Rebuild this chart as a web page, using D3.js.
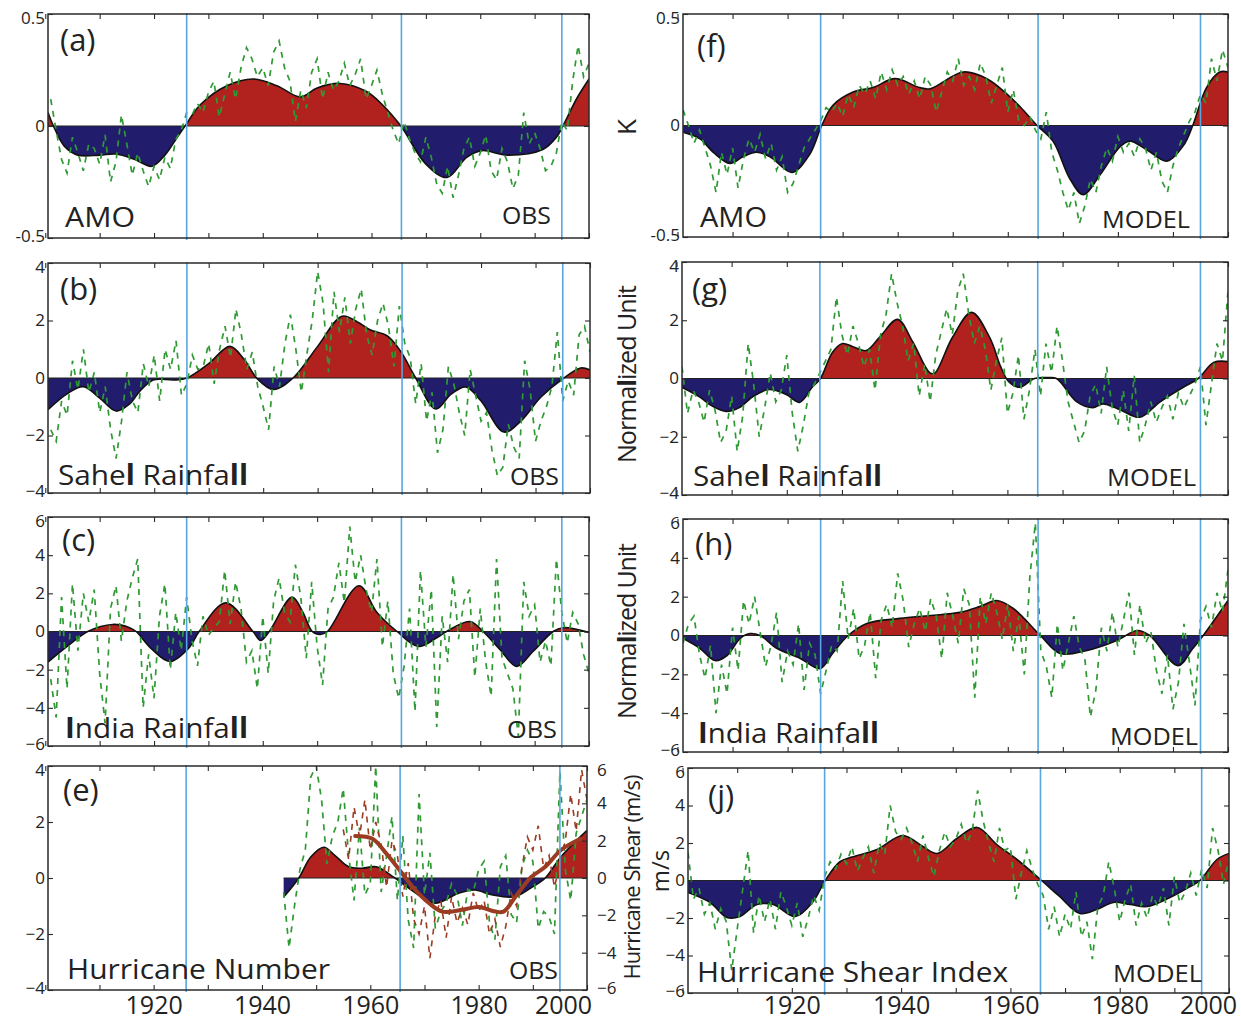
<!DOCTYPE html>
<html>
<head>
<meta charset="utf-8">
<script src="https://cdn.jsdelivr.net/npm/d3@7"></script>
<style>
  body { margin: 0; background: #fff; }
  svg { display: block; font-family: "Open Sans", "Noto Sans", sans-serif; }
</style>
</head>
<body>
<svg id="fig" width="1241" height="1022"></svg>
<script>
// ---------------- data ----------------
const firstYear = 1901;              // annual series run 1901..2000
const phaseYears = [1926, 1965.5, 1995];

const decadeTicks = [1900, 1910, 1920, 1930, 1940, 1950, 1960, 1970, 1980, 1990, 2000];
const yearLabels = [1920, 1940, 1960, 1980, 2000];
const amoTicks = [-0.5, 0, 0.5];
const ticks4 = [-4, -2, 0, 2, 4];
const ticks6 = [-6, -4, -2, 0, 2, 4, 6];

// annual values (K or normalized units), 1901..2000
const amoObs = [
  0.12,-0.02,-0.15,-0.21,-0.05,-0.12,-0.20,-0.08,-0.10,-0.17,
 -0.04,-0.25,-0.16,0.05,-0.08,-0.22,-0.12,-0.20,-0.27,-0.18,
 -0.24,-0.14,-0.19,-0.06,-0.02,0.06,0.05,0.10,0.06,0.15,
  0.20,0.04,0.14,0.24,0.12,0.26,0.35,0.30,0.22,0.26,
  0.18,0.33,0.38,0.26,0.20,0.02,0.16,0.08,0.24,0.30,
  0.12,0.24,0.16,0.20,0.28,0.18,0.23,0.30,0.12,0.18,
  0.25,0.14,0.06,-0.02,-0.08,0.02,-0.06,-0.12,-0.16,-0.05,
 -0.14,-0.26,-0.30,-0.18,-0.32,-0.22,-0.10,-0.05,-0.18,-0.12,
 -0.04,-0.20,-0.24,-0.10,-0.16,-0.28,-0.22,0.06,-0.08,-0.03,
 -0.10,-0.20,-0.18,-0.12,0.02,-0.02,0.20,0.36,0.22,0.28];

const sahelObs = [
 -1.8,-2.2,-0.8,-1.3,0.6,-0.4,1.0,-0.5,0.2,-1.2,
 -0.3,-1.8,-2.8,-1.5,0.2,-0.8,-1.2,0.5,-0.3,0.8,
 -0.8,1.0,0.3,1.3,-0.6,-0.2,0.8,0.3,0.4,1.2,
 -0.2,1.0,1.8,0.7,2.4,1.5,0.3,0.9,-0.3,-1.0,
 -1.8,0.4,-0.3,1.2,2.2,1.0,-0.5,0.8,2.0,3.7,
  2.6,0.2,3.0,1.6,2.8,1.2,2.4,3.1,1.5,0.8,
  2.0,2.6,1.8,0.4,2.5,1.2,0.7,-0.9,0.5,-1.5,
 -0.5,-2.6,-1.8,0.4,-0.2,-1.2,-2.0,0.3,-0.6,-1.5,
 -1.2,-2.5,-3.4,-3.1,-1.6,-2.4,-2.8,0.6,-0.4,-2.2,
 -1.5,-1.0,-0.3,1.6,-0.8,-0.1,-0.6,1.5,1.8,0.9];

const indiaObs = [
 -2.5,-4.5,1.8,-3.0,2.5,-1.0,2.0,0.5,2.2,-2.2,
 -4.8,1.2,2.4,-0.5,1.6,2.8,3.8,-4.0,-1.2,-3.5,
  0.8,2.5,-2.0,1.0,-1.0,1.8,-0.5,-1.8,0.8,-0.2,
  0.2,0.5,3.2,0.4,2.6,1.2,-1.6,-1.0,-3.0,0.8,
 -2.2,1.6,2.8,1.0,0.5,3.5,1.8,-1.4,2.6,-0.8,
 -2.8,1.2,1.8,3.6,1.5,5.5,2.6,4.0,2.2,1.0,
  3.8,-0.8,1.6,-2.2,-3.5,-1.8,1.2,-4.2,3.2,-0.8,
  2.2,-5.0,0.8,-1.6,3.0,-0.4,1.6,2.2,-2.4,1.2,
 -1.6,-3.4,3.8,-1.4,-2.2,-3.0,-5.5,2.6,0.8,1.4,
 -1.6,-0.5,-1.8,3.8,1.0,-0.6,1.0,0.4,-1.2,-2.2];

// hurricane number, 1944..2000
const hurrStart = 1944;
const hurrObs = [
 -0.5,-2.5,-1.0,0.3,1.0,3.6,4.0,
  2.8,0.5,1.5,2.0,3.2,0.8,-0.8,1.8,-0.6,-0.2,
  4.0,-0.5,0.8,2.2,-0.8,1.5,-1.5,-2.5,3.0,-0.6,
  0.9,-1.8,-1.2,-0.9,-0.2,-0.6,-1.7,-0.4,-0.5,0.3,
  0.6,-1.6,-2.2,0.4,0.8,-1.3,-1.6,0.4,1.0,0.6,
 -1.8,-1.2,-1.4,-2.0,3.8,0.3,-0.8,1.6,2.2,2.8];

// observed hurricane shear (m/s), 1955..2000
const shearStart = 1955;
const shearObs = [
  2.6,1.0,3.8,2.2,4.2,1.5,
  3.0,1.8,-0.5,2.0,1.2,-1.0,0.8,-2.2,-3.0,-1.5,
 -4.3,-2.0,-1.2,-3.2,-1.0,-2.4,-1.6,-2.5,-0.8,-1.8,
 -1.2,-3.0,-2.2,-3.7,-2.6,-0.8,-1.5,0.6,2.2,1.5,
  2.8,0.5,1.2,-0.5,0.8,2.0,4.5,2.5,5.8,4.2];

const amoModel = [
  0.07,0.00,-0.08,-0.02,-0.10,-0.18,-0.30,-0.12,-0.22,-0.10,
 -0.28,-0.15,-0.06,-0.12,-0.04,-0.15,-0.08,-0.20,-0.14,-0.30,
 -0.26,-0.18,-0.10,-0.06,-0.02,0.02,0.08,0.06,0.10,0.04,
  0.14,0.08,0.18,0.14,0.20,0.12,0.24,0.16,0.25,0.18,
  0.22,0.14,0.20,0.12,0.22,0.18,0.06,0.15,0.24,0.20,
  0.30,0.18,0.22,0.16,0.28,0.22,0.10,0.18,0.26,0.06,
  0.16,0.02,0.00,0.04,-0.02,-0.06,0.06,-0.12,-0.20,-0.30,
 -0.38,-0.30,-0.44,-0.36,-0.24,-0.30,-0.18,-0.10,-0.16,-0.05,
 -0.12,-0.08,-0.14,-0.06,-0.10,-0.20,-0.12,-0.25,-0.30,-0.18,
 -0.10,-0.04,0.02,0.06,0.14,0.10,0.30,0.20,0.34,0.26];

const sahelModel = [
  0.4,-1.2,-0.4,-0.8,-1.5,-0.4,-1.1,-2.2,-1.8,-0.6,
 -2.5,-1.3,1.2,-0.2,-2.0,-1.0,0.2,-0.8,-0.4,0.8,
 -1.2,-2.5,-1.6,-0.5,-0.2,0.2,0.6,1.0,2.8,1.5,
  0.8,1.8,1.2,0.4,1.0,-0.4,1.5,2.2,3.6,2.6,
  1.8,0.6,1.2,-0.6,0.5,-0.8,0.8,1.6,2.4,1.5,
  3.0,3.6,2.2,1.2,1.8,1.0,-0.4,0.6,1.4,-1.2,
 -0.5,0.8,-1.4,-0.4,1.0,-0.6,1.2,0.2,1.8,0.6,
 -0.8,-1.5,-2.2,-1.8,-0.6,-0.2,-1.2,0.4,-1.0,-1.6,
 -0.4,-1.8,0.1,-2.2,-1.6,-0.8,-1.5,-1.0,-0.6,-1.4,
 -0.5,-1.0,-0.6,-0.2,0.4,-1.6,-0.2,1.2,0.6,3.0];

const indiaModel = [
 -0.4,0.6,1.0,-1.0,-2.2,-0.5,-4.0,-1.5,-3.0,0.4,
 -1.8,1.8,0.6,2.0,0.2,-1.6,-0.5,1.2,-2.4,-0.8,
 -1.5,0.6,-2.8,-0.4,-1.0,-3.0,-1.8,-0.5,-0.8,2.8,
 -0.2,1.4,-1.2,-0.5,1.2,-2.2,0.8,1.6,0.4,3.2,
  1.8,-0.6,0.6,1.4,0.2,1.9,1.0,-1.2,2.2,1.0,
 -0.4,2.4,1.6,-3.2,2.0,0.6,2.2,1.2,-0.2,1.6,
 -0.8,1.0,-2.0,3.0,5.8,-0.8,-1.6,-3.2,0.6,-1.8,
 -0.4,1.0,-0.6,-1.2,-4.2,-2.8,0.4,-0.8,1.2,-0.6,
  0.8,2.2,-1.0,1.6,-0.4,0.2,-1.8,-3.0,-1.0,-3.8,
 -2.4,0.6,-1.4,-3.6,0.8,1.5,0.4,2.2,1.2,3.4];

const shearModel = [
  1.5,-1.0,-0.4,-1.8,-1.2,-2.6,-1.5,-2.2,-4.8,-2.6,
 -0.5,1.6,-2.8,-0.8,-2.2,-1.0,-2.6,-0.6,-1.4,-2.4,
 -1.2,-3.0,-2.0,-0.8,-1.6,0.2,1.0,0.6,1.4,0.9,
  1.8,0.5,1.2,1.8,0.4,2.0,1.4,4.0,2.6,2.2,
  2.8,2.0,1.0,2.4,1.2,0.2,1.6,2.6,1.8,2.2,
  3.0,2.0,2.6,4.8,3.2,2.0,1.0,2.8,1.6,1.8,
 -1.0,0.4,1.6,0.6,-0.2,-0.8,-2.6,-1.4,-3.0,-1.8,
 -2.6,-0.6,-3.0,-2.2,-4.2,-1.4,-0.8,1.0,-0.4,-2.2,
 -1.0,-0.2,-2.4,-1.2,-2.0,-0.8,-1.4,-0.4,-2.4,0.2,
 -1.2,-0.6,0.4,-0.8,0.6,-0.4,2.8,1.6,-0.2,1.2];

// low-pass filtered series: [year, value]
const amoObsSmooth = [[1900.5,0.06],[1901.5,0.0],[1903.5,-0.09],[1906,-0.13],[1910,-0.13],[1913,-0.125],
  [1916.5,-0.15],[1919.6,-0.18],[1922,-0.13],[1924,-0.06],[1925.7,0],[1928.5,0.095],[1933.4,0.18],
  [1938.3,0.21],[1942.6,0.18],[1946.9,0.13],[1950,0.17],[1954.2,0.19],[1959,0.155],[1962,0.095],
  [1965.4,0],[1970,-0.17],[1973.9,-0.23],[1977.5,-0.14],[1980.3,-0.11],[1985,-0.13],[1991.5,-0.105],
  [1994,-0.05],[1995.2,0],[1997.8,0.125],[2000,0.21]];

const sahelObsSmooth = [[1900.5,-1.1],[1904,-0.55],[1907,-0.3],[1910,-0.7],[1913,-1.15],[1915.5,-0.9],
  [1917.4,-0.45],[1919.8,-0.07],[1922,-0.05],[1924,-0.07],[1926,0],[1930,0.5],[1933.9,1.1],[1936.5,0.65],
  [1938.8,0],[1941.9,-0.4],[1945.5,0],[1950,1.1],[1954.5,2.15],[1957.3,1.95],[1959.7,1.67],[1962.8,1.46],
  [1965.2,0.94],[1968,0],[1971.7,-1.08],[1974.5,-0.56],[1977.2,-0.31],[1980,-0.8],[1984.2,-1.88],
  [1987.3,-1.5],[1991,-0.66],[1995.2,0],[1998.3,0.35],[2000,0.28]];

const indiaObsSmooth = [[1900.5,-1.6],[1904.5,-0.68],[1907.8,0],[1912.4,0.37],[1915.5,0.2],[1916.7,0],
  [1919.5,-0.9],[1922.9,-1.57],[1926.5,-0.83],[1928.3,0],[1933.2,1.5],[1938.2,0],[1939.6,-0.47],
  [1941.2,0],[1945.4,1.8],[1947.3,1.05],[1949.1,0],[1950.6,-0.16],[1951.9,0],[1957.7,2.4],[1961,1.0],
  [1964.7,0],[1968.6,-0.78],[1972,-0.33],[1973.8,0],[1978.1,0.52],[1980.5,0],[1983.6,-0.94],
  [1986.7,-1.83],[1989.7,-1.05],[1993.4,0],[1995.2,0.2],[2000,-0.05]];

const hurrObsSmooth = [[1944,-0.68],[1946.8,0],[1949,0.75],[1951.4,1.1],[1953.5,0.8],[1956,0.4],
  [1958.5,0.35],[1961.1,0.4],[1964.3,0.03],[1967.6,-0.43],[1971.9,-0.9],[1976.2,-0.55],[1979.3,-0.43],
  [1982.4,-0.6],[1986.6,-0.67],[1989.6,-0.36],[1992.3,0],[1995.2,0.76],[2000,1.7]];

const shearObsSmooth = [[1957.2,2.25],[1960.4,2.1],[1962.7,1.4],[1965.1,0.53],[1968.3,-0.64],[1970.8,-1.34],
  [1973.3,-1.8],[1977,-1.7],[1980,-1.55],[1983.1,-1.8],[1984.6,-1.8],[1986.8,-1.0],[1989.7,0.05],
  [1992.3,0.6],[1995.2,1.5],[1998.8,2.1]];

const amoModelSmooth = [[1901,-0.03],[1904.1,-0.06],[1906.5,-0.12],[1909.5,-0.17],[1911.9,-0.14],
  [1914.4,-0.12],[1916.8,-0.14],[1920.8,-0.21],[1924,-0.13],[1926.2,0],[1928.2,0.09],[1931.9,0.15],
  [1935.5,0.17],[1939.5,0.21],[1944,0.17],[1945.9,0.165],[1951.9,0.24],[1956.2,0.21],[1959.9,0.14],
  [1962.2,0.085],[1965.3,0],[1968.2,-0.07],[1971.3,-0.24],[1973.7,-0.31],[1976.8,-0.22],[1980.4,-0.095],
  [1982.2,-0.07],[1985.3,-0.11],[1988.9,-0.16],[1991.9,-0.09],[1993.6,0],[1996.1,0.17],[1998.5,0.24],
  [2000,0.24]];

const sahelModelSmooth = [[1901,-0.3],[1904.1,-0.62],[1906.5,-0.95],[1909,-1.13],[1911.4,-1.0],[1914,-0.6],
  [1916.8,-0.38],[1919.9,-0.55],[1922.3,-0.82],[1924.6,-0.3],[1926.1,0],[1928.3,0.9],[1930.1,1.2],
  [1931.9,1.1],[1934.4,0.96],[1936.8,1.41],[1940.1,2.03],[1942.8,1.27],[1945.9,0.2],[1946.8,0.18],
  [1950,1.4],[1953.5,2.27],[1956.8,1.4],[1958.8,0.4],[1960.2,-0.1],[1962.2,-0.3],[1964.9,0],
  [1967.3,0.03],[1968.9,0],[1972.6,-0.8],[1975.5,-1.0],[1977.3,-0.87],[1980.4,-1.07],[1984,-1.33],
  [1987.7,-0.8],[1991.9,-0.3],[1994.6,0],[1997.4,0.55],[2000,0.58]];

const indiaModelSmooth = [[1901,-0.15],[1904.1,-0.67],[1906.8,-1.29],[1909,-1.03],[1911.4,-0.15],
  [1913.2,0.1],[1915,0],[1918.1,-0.67],[1922.3,-1.18],[1925.9,-1.7],[1928.3,-0.88],[1931,0],
  [1934.4,0.62],[1940.4,0.88],[1945.9,1.03],[1951.3,1.19],[1955,1.5],[1958,1.8],[1961,1.39],
  [1965.9,0],[1969.5,-0.93],[1974.4,-0.77],[1979.8,-0.26],[1983.5,0.26],[1985.8,0],[1990.9,-1.55],
  [1993.6,-0.67],[1995.5,0],[2000,1.8]];

const shearModelSmooth = [[1901,-0.64],[1905,-1.17],[1908.1,-1.97],[1910.5,-1.92],[1913.6,-1.28],
  [1916.6,-1.28],[1920.6,-1.92],[1923.9,-1.12],[1926.1,0],[1928.8,1.0],[1931,1.25],[1935.6,1.65],
  [1940.3,2.4],[1944,1.81],[1946.6,1.44],[1950.2,2.24],[1953.9,2.83],[1957.5,1.92],[1961.2,1.12],
  [1965.7,0],[1969,-0.85],[1972.7,-1.76],[1975.8,-1.55],[1978.8,-1.17],[1981.9,-1.28],[1985,-1.39],
  [1989.2,-0.91],[1992.9,-0.32],[1994.7,0],[1997.8,1.12],[2000,1.44]];

// ---------------- styling ----------------
const RED = "#b1221f", NAVY = "#221c6c", GREEN = "#2f9a34", BLUE = "#58a6e0",
      BROWN = "#9a3b22", INK = "#2a2a2a";

const fmtAmo = v => v === 0 ? "0" : (v < 0 ? "-" + Math.abs(v) : String(v));
const fmtInt = v => v === 0 ? "0" : (v < 0 ? "\u2212" + Math.abs(v) : String(v));

// label segments: [text, bold]
const panels = [
  { key: "a", box: [48, 589, 14, 238], xDom: [1900.5, 2000], yDom: [-0.5, 0.5], yTicks: amoTicks, fmt: fmtAmo,
    annual: amoObs, start: firstYear, smooth: amoObsSmooth,
    tag: ["(a)", 60, 51], name: [[["AMO", 0]], 65, 227, 70], src: ["OBS", 502, 224, 49] },
  { key: "b", box: [48, 590, 263, 493], xDom: [1900.5, 2000], yDom: [-4, 4], yTicks: ticks4, fmt: fmtInt,
    annual: sahelObs, start: firstYear, smooth: sahelObsSmooth,
    tag: ["(b)", 60, 300], name: [[["Sahe", 0], ["l", 1], [" Rainfa", 0], ["ll", 1]], 58, 485, 190], src: ["OBS", 510, 485, 49] },
  { key: "c", box: [48, 589, 517, 746], xDom: [1900.5, 2000], yDom: [-6, 6], yTicks: ticks6, fmt: fmtInt,
    annual: indiaObs, start: firstYear, smooth: indiaObsSmooth,
    tag: ["(c)", 62, 551], name: [[["I", 1], ["ndia Rainfa", 0], ["ll", 1]], 65, 738, 183], src: ["OBS", 507, 738, 50] },
  { key: "e", box: [48, 587, 766, 990], xDom: [1900.5, 2000], yDom: [-4, 4], yTicks: ticks4, fmt: fmtInt,
    annual: hurrObs, start: hurrStart, smooth: hurrObsSmooth, bottomLabels: { pad: 6, lastDx: -24 },
    shear: { annual: shearObs, start: shearStart, smooth: shearObsSmooth, yDom: [-6, 6], yTicks: ticks6 },
    tag: ["(e)", 63, 801], name: [[["Hurricane Number", 0]], 67, 979, 263], src: ["OBS", 509, 979, 49] },
  { key: "f", box: [683, 1228, 14, 237], xDom: [1901, 2000], yDom: [-0.5, 0.5], yTicks: amoTicks, fmt: fmtAmo,
    annual: amoModel, start: firstYear, smooth: amoModelSmooth,
    tag: ["(f)", 697, 57], name: [[["AMO", 0]], 700, 227, 67], src: ["MODEL", 1102, 228, 88] },
  { key: "g", box: [682, 1228, 262, 495], xDom: [1901, 2000], yDom: [-4, 4], yTicks: ticks4, fmt: fmtInt,
    annual: sahelModel, start: firstYear, smooth: sahelModelSmooth,
    tag: ["(g)", 692, 300], name: [[["Sahe", 0], ["l", 1], [" Rainfa", 0], ["ll", 1]], 693, 486, 189], src: ["MODEL", 1107, 486, 89] },
  { key: "h", box: [683, 1228, 519, 752], xDom: [1901, 2000], yDom: [-6, 6], yTicks: ticks6, fmt: fmtInt,
    annual: indiaModel, start: firstYear, smooth: indiaModelSmooth,
    tag: ["(h)", 695, 555], name: [[["I", 1], ["ndia Rainfa", 0], ["ll", 1]], 698, 743, 181], src: ["MODEL", 1110, 745, 88] },
  { key: "j", box: [688, 1229, 768, 993], xDom: [1901, 2000], yDom: [-6, 6], yTicks: ticks6, fmt: fmtInt,
    annual: shearModel, start: firstYear, smooth: shearModelSmooth, bottomLabels: { pad: 3, lastDx: -21 },
    tag: ["(j)", 708, 807], name: [[["Hurricane Shear Index", 0]], 697, 982, 311], src: ["MODEL", 1113, 982, 89] }
];

// rotated axis titles: [text segments, cx, cy, size, length]
const axisTitles = [
  [[["K", 0]], 627, 127, 26, null],
  [[["Norma", 0], ["l", 1], ["ized Unit", 0]], 627, 374, 25, 178],
  [[["Norma", 0], ["l", 1], ["ized Unit", 0]], 627, 631, 25, 176],
  [[["Hurricane Shear (m/s)", 0]], 632, 877, 22, 205],
  [[["m/s", 0]], 661, 871, 24, null]
];

// ---------------- drawing ----------------
const svg = d3.select("#fig");
const defs = svg.append("defs");
const smoothCurve = d3.curveCatmullRom.alpha(0.5);

function addSegments(sel, segs) {
  segs.forEach(([t, b]) => sel.append("tspan").text(t).attr("font-weight", b ? 700 : 400));
}

function styleAxis(g, size) {
  g.attr("font-family", null).attr("font-size", size);
  g.select(".domain").remove();
  g.selectAll(".tick line").attr("stroke", INK).attr("stroke-width", 1.1);
  g.selectAll(".tick text").attr("fill", "#222");
}

// end labels sit just inside the box, like the plotting package places them
function nudgeEnds(g, dom) {
  g.selectAll(".tick").filter(d => d === dom[1]).select("text").attr("y", 4);
  g.selectAll(".tick").filter(d => d === dom[0]).select("text").attr("y", -2);
}

panels.forEach(p => {
  const [L, R, T, B] = p.box;
  const x = d3.scaleLinear().domain(p.xDom).range([L, R]);
  const y = d3.scaleLinear().domain(p.yDom).range([B, T]);
  const y0 = y(0);
  const g = svg.append("g").attr("class", "panel-" + p.key);
  const id = "clip-" + p.key;

  defs.append("clipPath").attr("id", id + "-box").append("rect")
    .attr("x", L).attr("y", T).attr("width", R - L).attr("height", B - T);
  defs.append("clipPath").attr("id", id + "-pos").append("rect")
    .attr("x", L).attr("y", T).attr("width", R - L).attr("height", y0 - T);
  defs.append("clipPath").attr("id", id + "-neg").append("rect")
    .attr("x", L).attr("y", y0).attr("width", R - L).attr("height", B - y0);

  // filled anomaly: red above zero, navy below
  const area = d3.area().curve(smoothCurve).x(d => x(d[0])).y0(y0).y1(d => y(d[1]));
  g.append("path").datum(p.smooth).attr("d", area).attr("fill", RED).attr("clip-path", `url(#${id}-pos)`);
  g.append("path").datum(p.smooth).attr("d", area).attr("fill", NAVY).attr("clip-path", `url(#${id}-neg)`);

  const ext = d3.extent(p.smooth, d => d[0]);
  g.append("line").attr("x1", x(ext[0])).attr("x2", x(ext[1])).attr("y1", y0).attr("y2", y0)
    .attr("stroke", "#222").attr("stroke-width", 1.2);

  const line = d3.line().curve(smoothCurve).x(d => x(d[0])).y(d => y(d[1]));
  g.append("path").datum(p.smooth).attr("d", line)
    .attr("fill", "none").attr("stroke", "#111").attr("stroke-width", 1.6).attr("clip-path", `url(#${id}-box)`);

  // annual values, dashed
  const annualPts = p.annual.map((v, k) => [p.start + k, v]);
  g.append("path").datum(annualPts)
    .attr("d", d3.line().x(d => x(d[0])).y(d => y(d[1])))
    .attr("fill", "none").attr("stroke", GREEN).attr("stroke-width", 1.7)
    .attr("stroke-dasharray", "6,6").attr("clip-path", `url(#${id}-box)`);

  // observed shear on its own right-hand scale
  if (p.shear) {
    const ys = d3.scaleLinear().domain(p.shear.yDom).range([B, T]);
    const sPts = p.shear.annual.map((v, k) => [p.shear.start + k, v]);
    g.append("path").datum(sPts)
      .attr("d", d3.line().x(d => x(d[0])).y(d => ys(d[1])))
      .attr("fill", "none").attr("stroke", BROWN).attr("stroke-width", 1.6)
      .attr("stroke-dasharray", "6,6").attr("clip-path", `url(#${id}-box)`);
    g.append("path").datum(p.shear.smooth)
      .attr("d", d3.line().curve(smoothCurve).x(d => x(d[0])).y(d => ys(d[1])))
      .attr("fill", "none").attr("stroke", BROWN).attr("stroke-width", 4)
      .attr("stroke-linecap", "round");
    const ra = g.append("g").attr("transform", `translate(${R},0)`)
      .call(d3.axisRight(ys).tickValues(p.shear.yTicks).tickSize(-5).tickPadding(10).tickFormat(fmtInt));
    styleAxis(ra, 17);
    nudgeEnds(ra, p.shear.yDom);
  } else {
    const ra = g.append("g").attr("transform", `translate(${R},0)`)
      .call(d3.axisRight(y).tickValues(p.yTicks).tickSize(-5).tickFormat(""));
    styleAxis(ra, 17);
  }

  // phase boundaries
  g.selectAll("line.phase").data(phaseYears).join("line").attr("class", "phase")
    .attr("x1", d => x(d)).attr("x2", d => x(d)).attr("y1", T - 1).attr("y2", B + 2)
    .attr("stroke", BLUE).attr("stroke-width", 1.6);

  // box ticks
  const la = g.append("g").attr("transform", `translate(${L},0)`)
    .call(d3.axisLeft(y).tickValues(p.yTicks).tickSize(-5).tickPadding(3).tickFormat(p.fmt));
  styleAxis(la, 17);
  nudgeEnds(la, p.yDom);
  const ta = g.append("g").attr("transform", `translate(0,${T})`)
    .call(d3.axisTop(x).tickValues(decadeTicks).tickSize(-5).tickFormat(""));
  styleAxis(ta, 17);
  const ba = g.append("g").attr("transform", `translate(0,${B})`)
    .call(d3.axisBottom(x).tickValues(decadeTicks).tickSize(-5).tickFormat(""));
  styleAxis(ba, 17);

  if (p.bottomLabels) {
    const xl = g.append("g").attr("transform", `translate(0,${B})`)
      .call(d3.axisBottom(x).tickValues(yearLabels).tickSize(0).tickPadding(p.bottomLabels.pad).tickFormat(d3.format("d")));
    styleAxis(xl, 25);
    xl.selectAll(".tick").filter(d => d === 2000).select("text").attr("dx", p.bottomLabels.lastDx);
  }

  g.append("rect").attr("x", L).attr("y", T).attr("width", R - L).attr("height", B - T)
    .attr("fill", "none").attr("stroke", INK).attr("stroke-width", 1.5);

  // panel texts
  g.append("text").attr("x", p.tag[1]).attr("y", p.tag[2]).attr("font-size", 31).attr("fill", "#222").text(p.tag[0]);
  const nm = g.append("text").attr("x", p.name[1]).attr("y", p.name[2]).attr("font-size", 28).attr("fill", "#222")
    .attr("textLength", p.name[3]).attr("lengthAdjust", "spacingAndGlyphs");
  addSegments(nm, p.name[0]);
  g.append("text").attr("x", p.src[1]).attr("y", p.src[2]).attr("font-size", 23).attr("fill", "#222")
    .attr("textLength", p.src[3]).attr("lengthAdjust", "spacingAndGlyphs").text(p.src[0]);
});

axisTitles.forEach(([segs, cx, cy, size, len]) => {
  const t = svg.append("text").attr("transform", `translate(${cx},${cy}) rotate(-90)`)
    .attr("text-anchor", "middle").attr("dy", "0.35em").attr("font-size", size).attr("fill", "#222");
  if (len) t.attr("textLength", len).attr("lengthAdjust", "spacing");
  addSegments(t, segs);
});
</script>
</body>
</html>
